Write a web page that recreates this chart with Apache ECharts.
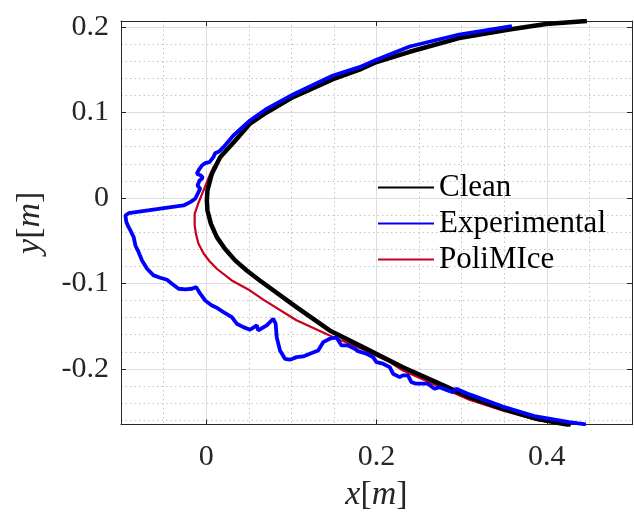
<!DOCTYPE html>
<html>
<head>
<meta charset="utf-8">
<script src="https://cdn.jsdelivr.net/npm/echarts@6/dist/echarts.min.js"></script>
<style>
  html, body { margin: 0; padding: 0; background: #fff; }
  #chart { width: 634px; height: 520px; }
</style>
</head>
<body>
<div id="chart"></div>
<script>
// Airfoil leading-edge profiles, [x, y] in metres
const clean = [
  [0.447, 0.207], [0.399, 0.2035], [0.356, 0.197], [0.297, 0.187], [0.239, 0.171],
  [0.200, 0.159], [0.180, 0.150], [0.149, 0.139], [0.102, 0.118], [0.071, 0.100],
  [0.0515, 0.087], [0.034, 0.067], [0.0164, 0.0477], [0.0067, 0.0283], [0.0015, 0.0088],
  [0.0008, -0.003], [0.0015, -0.0146], [0.0055, -0.030], [0.0125, -0.0458], [0.022, -0.0594],
  [0.034, -0.073], [0.0476, -0.0848], [0.063, -0.0965], [0.106, -0.1277], [0.145, -0.155],
  [0.184, -0.1745], [0.231, -0.198], [0.270, -0.2154], [0.309, -0.233], [0.348, -0.2466],
  [0.387, -0.258], [0.428, -0.266]
];

const experimental = [
  [0.359, 0.2009], [0.297, 0.1912], [0.239, 0.1772], [0.200, 0.1616], [0.180, 0.153],
  [0.149, 0.1433], [0.102, 0.1211], [0.071, 0.1043], [0.0515, 0.0906], [0.032, 0.0731],
  [0.0203, 0.0594], [0.0156, 0.0547], [0.0105, 0.0524], [0.0085, 0.0477], [0.0039, 0.0419],
  [-0.0012, 0.0407], [-0.005, 0.038], [-0.009, 0.0322], [-0.0109, 0.0283], [-0.0062, 0.0263],
  [-0.0039, 0.0236], [-0.0078, 0.0205], [-0.0102, 0.0146], [-0.007, 0.0108], [-0.0129, -0.0009],
  [-0.0187, -0.0049], [-0.0266, -0.0088], [-0.0539, -0.0126], [-0.091, -0.0178], [-0.0948, -0.0205],
  [-0.0937, -0.0283], [-0.091, -0.0342], [-0.089, -0.038], [-0.0851, -0.0458], [-0.0831, -0.0556],
  [-0.0793, -0.0634], [-0.0753, -0.0731], [-0.0694, -0.0828], [-0.0617, -0.0906], [-0.0539, -0.0933],
  [-0.046, -0.0957], [-0.0402, -0.1004], [-0.0324, -0.1062], [-0.0246, -0.107], [-0.0167, -0.1062],
  [-0.0117, -0.1043], [-0.007, -0.112], [-0.0012, -0.1199], [0.0067, -0.1257], [0.0125, -0.1284],
  [0.0203, -0.1336], [0.0301, -0.1394], [0.0359, -0.1471], [0.0437, -0.1511], [0.0515, -0.1542],
  [0.0594, -0.1491], [0.0612, -0.155], [0.0711, -0.1491], [0.0788, -0.1413], [0.0816, -0.1471],
  [0.0828, -0.1628], [0.0867, -0.1784], [0.0925, -0.1881], [0.0984, -0.1892], [0.1062, -0.1862],
  [0.1139, -0.1854], [0.1218, -0.1822], [0.1315, -0.1784], [0.1374, -0.1687], [0.1452, -0.1647],
  [0.153, -0.1632], [0.1589, -0.1725], [0.1666, -0.1725], [0.1745, -0.1764], [0.1783, -0.1792],
  [0.1882, -0.1822], [0.1959, -0.1862], [0.1999, -0.192], [0.2076, -0.1939], [0.2155, -0.1979],
  [0.2194, -0.2056], [0.2272, -0.2096], [0.231, -0.2076], [0.2369, -0.2076], [0.2409, -0.2154],
  [0.2467, -0.2173], [0.2603, -0.2173], [0.2681, -0.2232], [0.274, -0.2213], [0.2837, -0.2251],
  [0.2896, -0.2271], [0.2936, -0.2232], [0.3091, -0.2298], [0.3481, -0.2439], [0.3872, -0.2556],
  [0.4262, -0.2622], [0.4458, -0.2649]
];

const poliMIce = [
  [0.447, 0.207], [0.399, 0.2035], [0.356, 0.197], [0.297, 0.187], [0.239, 0.171],
  [0.200, 0.159], [0.149, 0.139], [0.102, 0.118], [0.071, 0.100], [0.0515, 0.087],
  [0.034, 0.067], [0.018, 0.050], [0.0086, 0.036], [0.003, 0.024], [-0.002, 0.0115],
  [-0.0095, -0.0068], [-0.0135, -0.0185], [-0.0135, -0.032], [-0.012, -0.042], [-0.009, -0.0536],
  [-0.003, -0.065], [0.004, -0.074], [0.0125, -0.0828], [0.030, -0.0965], [0.0495, -0.107],
  [0.067, -0.119], [0.106, -0.143], [0.145, -0.161], [0.184, -0.177], [0.2155, -0.192],
  [0.231, -0.2018], [0.270, -0.219], [0.309, -0.236], [0.348, -0.2485], [0.387, -0.2595],
  [0.428, -0.266]
];

// Axis limits and tick positions
const xLimits = [-0.1, 0.5];
const yLimits = [-0.265, 0.207];
const xMajorTicks = [0, 0.2, 0.4];
const xMinorTicks = [-0.05, 0.05, 0.1, 0.15, 0.25, 0.3, 0.35, 0.45];
const yMajorTicks = [-0.2, -0.1, 0, 0.1, 0.2];
const yMinorTicks = [-0.26, -0.24, -0.22, -0.18, -0.16, -0.14, -0.12, -0.08, -0.06, -0.04, -0.02,
  0.02, 0.04, 0.06, 0.08, 0.12, 0.14, 0.16, 0.18];

const serif = 'Liberation Serif';
const axisColor = '#262626';

function boxAxis(position, limits, ticks, extra) {
  return Object.assign({
    type: 'value', position: position, min: limits[0], max: limits[1],
    axisLine: { show: true, onZero: false, lineStyle: { color: axisColor, width: 1 } },
    axisTick: { show: true, inside: true, length: 5, customValues: ticks, lineStyle: { color: axisColor } },
    axisLabel: { show: false, customValues: ticks },
    splitLine: { show: false }
  }, extra || {});
}

function minorGridAxis(position, limits, ticks) {
  return {
    type: 'value', position: position, min: limits[0], max: limits[1],
    axisLine: { show: false },
    axisTick: { show: false, customValues: ticks },
    axisLabel: { show: false, customValues: ticks },
    splitLine: { show: true, lineStyle: { color: '#c4c4c4', width: 1, type: [1.5, 3] } }
  };
}

const nameStyle = {
  fontFamily: serif, fontSize: 34, color: axisColor,
  rich: { i: { fontFamily: serif, fontSize: 34, fontStyle: 'italic', color: axisColor } }
};

const chart = echarts.init(document.getElementById('chart'), null, { renderer: 'canvas' });
chart.setOption({
  animation: false,
  backgroundColor: '#ffffff',
  grid: { left: 121, right: 2, top: 21, bottom: 95.5, containLabel: false },
  xAxis: [
    boxAxis('bottom', xLimits, xMajorTicks, {
      axisLabel: { show: true, customValues: xMajorTicks, fontFamily: serif, fontSize: 30, color: axisColor, margin: 18 },
      splitLine: { show: true, lineStyle: { color: '#dedede', width: 1 } },
      name: '{i|x}[{i|m}]', nameLocation: 'middle', nameGap: 54, nameTextStyle: nameStyle
    }),
    minorGridAxis('bottom', xLimits, xMinorTicks),
    boxAxis('top', xLimits, xMajorTicks)
  ],
  yAxis: [
    boxAxis('left', yLimits, yMajorTicks, {
      axisLabel: { show: true, customValues: yMajorTicks, fontFamily: serif, fontSize: 30, color: axisColor, margin: 12 },
      splitLine: { show: true, lineStyle: { color: '#dedede', width: 1 } },
      name: '{i|y}[{i|m}]', nameLocation: 'middle', nameGap: 74, nameTextStyle: nameStyle
    }),
    minorGridAxis('left', yLimits, yMinorTicks),
    boxAxis('right', yLimits, yMajorTicks)
  ],
  legend: {
    orient: 'vertical', left: 372, top: 167,
    itemWidth: 56, itemHeight: 14, itemGap: 5,
    data: ['Clean', 'Experimental', 'PoliMIce'],
    itemStyle: { opacity: 0 },
    textStyle: { fontFamily: serif, fontSize: 31, color: '#000' }
  },
  series: [
    {
      name: 'PoliMIce', type: 'line', data: poliMIce, xAxisIndex: 0, yAxisIndex: 0,
      symbol: 'none', showSymbol: false, z: 2,
      lineStyle: { color: '#c8001e', width: 2.2 }, itemStyle: { color: '#c8001e' }
    },
    {
      name: 'Clean', type: 'line', data: clean, xAxisIndex: 0, yAxisIndex: 0,
      symbol: 'none', showSymbol: false, z: 3,
      lineStyle: { color: '#000000', width: 4.5 }, itemStyle: { color: '#000000' }
    },
    {
      name: 'Experimental', type: 'line', data: experimental, xAxisIndex: 0, yAxisIndex: 0,
      symbol: 'none', showSymbol: false, z: 4,
      lineStyle: { color: '#0000ff', width: 3.8 }, itemStyle: { color: '#0000ff' }
    }
  ]
});
</script>
</body>
</html>
